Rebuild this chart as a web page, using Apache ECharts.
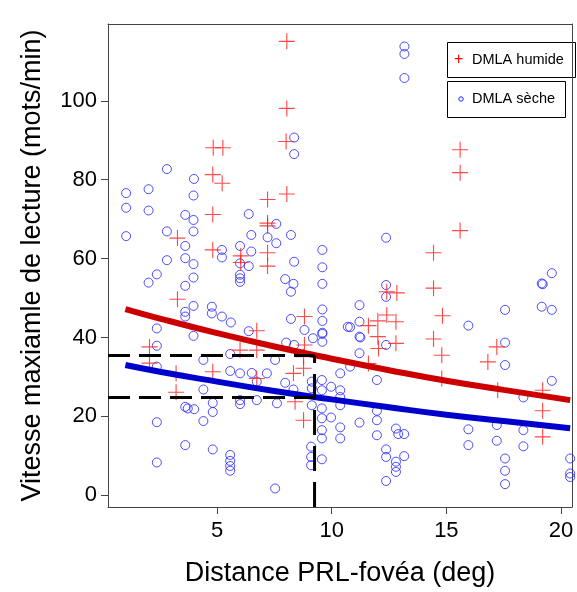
<!DOCTYPE html>
<html><head><meta charset="utf-8">
<script src="https://cdn.jsdelivr.net/npm/echarts@6/dist/echarts.min.js"></script>
<style>html,body{margin:0;padding:0;background:#fff}#c{width:577px;height:592px}</style>
</head><body><div id="c"></div>
<script>
// ---- data ----
const xTicks = [5, 10, 15, 20];
const yTicks = [0, 20, 40, 60, 80, 100];
const xName = 'Distance PRL-fovéa (deg)';
const yName = 'Vitesse maxiamle de lecture (mots/min)';
const legendNames = ['DMLA humide', 'DMLA sèche'];

const humide = [
  [8.04,115.1],[8.04,98.1],[8.01,89.7],[4.83,88.1],[5.25,88.1],[4.81,81.3],[5.22,79.1],
  [4.81,71.2],[3.27,65.2],[4.81,62.2],[6.03,60.7],[6.03,59.0],[3.27,49.7],[6.73,41.7],
  [8.04,76.4],[7.2,75.0],[7.2,69.0],[7.2,68.3],[7.2,61.5],[7.2,58.1],[12.4,51.6],[12.84,51.3],
  [8.81,45.3],[11.6,43.0],[12.01,44.2],[12.4,45.7],[12.8,44.0],[12.01,40.2],[12.8,38.5],
  [8.81,38.1],[15.6,87.6],[15.6,81.8],[15.6,67.1],[14.44,61.5],[14.44,52.5],[14.83,45.5],
  [14.44,39.6],[17.2,37.6],[2.05,37.6],[2.05,33.5],[3.21,30.9],[3.21,26.1],[4.81,31.3],
  [6.0,36.8],[6.73,36.8],[8.77,35.1],[8.33,30.9],[8.77,32.2],[6.73,29.6],[8.4,23.7],
  [8.77,19.0],[11.6,33.4],[12.04,37.2],[14.8,35.5],[16.81,33.8],[17.24,26.6],[14.8,29.6],
  [19.2,26.6],[19.2,21.4],[19.2,14.8]
];
const seche = [
  [2.81,82.7],[3.99,80.2],[13.17,113.8],[13.17,111.9],[13.17,105.8],[8.36,90.7],[8.36,86.5],
  [1.03,76.6],[2.01,77.6],[3.97,76.0],[1.03,72.9],[2.01,72.2],[3.61,71.1],[3.97,69.8],
  [6.38,71.3],[1.03,65.7],[2.81,66.9],[3.97,66.9],[3.61,63.2],[6.49,66.0],[5.21,62.2],
  [5.21,60.3],[6.0,63.2],[6.49,61.8],[2.81,59.6],[3.61,60.1],[3.97,58.6],[6.0,58.8],
  [6.38,58.1],[2.37,56.0],[2.01,53.9],[3.97,55.2],[3.61,53.1],[6.0,55.9],[6.0,55.0],
  [6.0,54.1],[3.97,48.0],[4.77,47.8],[3.61,46.5],[3.61,45.3],[4.77,46.1],[5.21,45.3],
  [5.6,43.8],[2.37,42.3],[6.38,41.6],[3.97,40.4],[2.37,37.9],[7.58,68.8],[8.22,66.0],
  [7.2,65.4],[7.58,63.9],[9.59,62.2],[9.59,57.8],[9.59,53.6],[8.36,59.2],[7.97,54.8],
  [8.33,53.6],[8.22,51.6],[12.37,65.3],[12.37,53.3],[12.37,50.3],[11.21,48.2],[9.59,47.1],
  [9.59,44.2],[9.59,41.2],[9.59,40.9],[9.59,38.9],[8.22,44.7],[8.81,41.9],[9.18,39.8],
  [8.01,38.7],[8.36,38.1],[10.7,42.7],[10.8,42.6],[11.21,44.0],[11.21,40.2],[11.25,40.0],
  [12.37,38.1],[19.6,56.3],[19.16,53.7],[19.2,53.5],[19.16,47.8],[19.6,47.0],[17.56,47.0],
  [15.96,43.0],[17.56,38.7],[2.37,32.6],[4.4,34.3],[5.57,35.8],[5.57,31.5],[6.0,30.9],
  [6.51,31.0],[4.4,26.8],[3.61,22.4],[3.72,22.0],[4.0,21.8],[4.81,23.4],[4.81,21.1],
  [6.0,24.1],[6.0,23.1],[4.4,18.8],[2.37,18.5],[3.61,12.7],[4.81,11.6],[5.57,10.2],
  [5.57,8.7],[5.57,7.4],[5.57,6.2],[2.37,8.3],[6.73,24.1],[6.73,28.8],[7.53,34.3],
  [7.17,30.9],[7.97,28.5],[7.61,23.3],[8.33,26.8],[7.53,1.7],[9.13,28.8],[9.13,27.1],
  [9.13,22.8],[9.1,12.3],[9.1,9.7],[9.1,7.6],[9.57,29.2],[9.57,26.6],[9.57,22.0],
  [9.57,19.5],[9.57,16.5],[9.57,14.4],[9.57,9.1],[9.97,27.5],[9.97,19.7],[10.37,26.6],
  [10.37,24.9],[10.37,22.8],[10.37,17.2],[10.37,14.4],[10.8,32.6],[10.37,30.9],[11.21,36.0],
  [11.21,18.4],[11.97,29.2],[11.97,21.4],[11.97,19.0],[11.97,15.2],[12.37,11.6],[12.37,9.7],
  [12.37,3.6],[12.8,16.9],[12.9,15.5],[13.16,15.5],[12.8,8.5],[12.8,7.2],[12.8,5.9],
  [13.16,9.9],[17.56,33.0],[19.6,29.0],[18.36,24.8],[17.2,17.8],[18.36,16.5],[15.96,16.7],
  [15.96,12.7],[17.2,13.8],[18.36,12.4],[17.56,9.3],[17.56,6.2],[17.56,2.8],[20.4,9.3],
  [20.4,5.5],[20.4,4.6]
];
// fitted curves
const fitX = [1, 2.5, 5, 7.5, 10, 12.5, 15, 17.5, 20.4];
const fitHumide = [47.2, 44.8, 41.1, 37.7, 34.6, 31.7, 29.0, 26.7, 24.1];
const fitSeche = [33.0, 31.3, 28.8, 26.4, 24.3, 22.3, 20.4, 18.8, 17.0];
// reference (dashed) lines
const refX = 9.25;
const refHumide = 35.4;
const refSeche = 24.8;
const xMin = 0.24, xMax = 20.48, yMin = -3, yMax = 119.5;

// ---- chart ----
const FONT = 'Liberation Sans, Arial, sans-serif';
const plusPath = 'path://M-0.07,-1H0.07V-0.07H1V0.07H0.07V1H-0.07V0.07H-1V-0.07H-0.07Z';
const chart = echarts.init(document.getElementById('c'), null, {renderer: 'canvas'});
const zip = (xs, ys) => xs.map((x, i) => [x, ys[i]]);
const dash = {color: '#000', width: 3, type: [22, 9]};
chart.setOption({
  animation: false,
  backgroundColor: '#fff',
  grid: {left: 108, top: 24, right: 5, bottom: 85, show: false},
  xAxis: [{
    type: 'value', min: xMin, max: xMax, position: 'bottom',
    name: xName, nameLocation: 'middle', nameGap: 53,
    nameTextStyle: {fontFamily: FONT, fontSize: 27, color: '#000'},
    axisLine: {show: true, onZero: false, lineStyle: {color: '#444', width: 1}},
    axisTick: {show: true, length: 7, inside: false, customValues: xTicks, lineStyle: {color: '#444'}},
    axisLabel: {customValues: xTicks, margin: 13, fontFamily: FONT, fontSize: 22, color: '#000'},
    splitLine: {show: false}
  }, {
    type: 'value', min: xMin, max: xMax, position: 'top',
    axisLine: {show: true, onZero: false, lineStyle: {color: '#444', width: 1}},
    axisTick: {show: false}, axisLabel: {show: false}, splitLine: {show: false}
  }],
  yAxis: [{
    type: 'value', min: yMin, max: yMax, position: 'left',
    name: yName, nameLocation: 'middle', nameGap: 62, nameRotate: 90,
    nameTextStyle: {fontFamily: FONT, fontSize: 27, color: '#000'},
    axisLine: {show: true, onZero: false, lineStyle: {color: '#444', width: 1}},
    axisTick: {show: true, length: 7, inside: false, customValues: yTicks, lineStyle: {color: '#444'}},
    axisLabel: {customValues: yTicks, margin: 11, fontFamily: FONT, fontSize: 22, color: '#000'},
    splitLine: {show: false}
  }, {
    type: 'value', min: yMin, max: yMax, position: 'right',
    axisLine: {show: true, onZero: false, lineStyle: {color: '#444', width: 1}},
    axisTick: {show: false}, axisLabel: {show: false}, splitLine: {show: false}
  }],
  series: [
    {type: 'scatter', name: legendNames[1], data: seche, symbol: 'circle', symbolSize: 9,
     itemStyle: {color: 'rgba(0,0,0,0)', borderColor: '#2222ff', borderWidth: 1}},
    {type: 'scatter', name: legendNames[0], data: humide, symbol: plusPath, symbolSize: 16,
     itemStyle: {color: '#ff1a1a'}},
    {type: 'line', data: zip(fitX, fitHumide), smooth: true, symbol: 'none',
     lineStyle: {color: '#cc0000', width: 6}},
    {type: 'line', data: zip(fitX, fitSeche), smooth: true, symbol: 'none',
     lineStyle: {color: '#0000cc', width: 6}},
    {type: 'line', data: [[xMin, refHumide], [refX, refHumide]], symbol: 'none', lineStyle: dash},
    {type: 'line', data: [[xMin, refSeche], [refX, refSeche]], symbol: 'none', lineStyle: dash},
    {type: 'line', data: [[refX, yMin], [refX, refHumide]], symbol: 'none',
     lineStyle: {color: '#000', width: 3, type: [25, 11]}}
  ],
  graphic: [
    {type: 'rect', left: 447, top: 42, shape: {width: 128, height: 35},
     style: {fill: '#fff', stroke: '#000', lineWidth: 1}},
    {type: 'rect', left: 447, top: 81, shape: {width: 118, height: 36},
     style: {fill: '#fff', stroke: '#000', lineWidth: 1}},
    {type: 'text', left: 454, top: 52, style: {text: '+', fill: '#ff0000', font: '16px ' + FONT}},
    {type: 'circle', shape: {cx: 461, cy: 99, r: 2.2}, style: {fill: 'none', stroke: '#2222ff', lineWidth: 1}},
    {type: 'text', left: 472, top: 52, style: {text: legendNames[0], fill: '#000', font: '14.5px ' + FONT}},
    {type: 'text', left: 472, top: 91, style: {text: legendNames[1], fill: '#000', font: '14.5px ' + FONT}}
  ]
});
</script></body></html>
